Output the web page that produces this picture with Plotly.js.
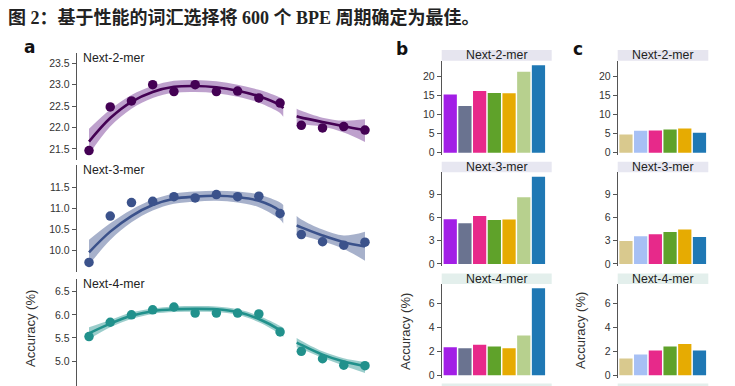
<!DOCTYPE html>
<html><head><meta charset="utf-8">
<script src="https://cdn.plot.ly/plotly-3.0.1.min.js"></script>
<style>html,body{margin:0;padding:0;background:#fff}#chart{width:735px;height:386px}</style>
</head><body><div id="chart"></div>
<script>
// ---------- data ----------
const cycleIdx = [1,2,3,4,5,6,7,8,9,10,11,12,13,14];
const acc2mer = [21.46,22.48,22.62,23.00,22.84,23.00,22.84,22.85,22.69,22.57,22.05,21.99,22.02,21.94];
const acc3mer = [9.72,10.82,11.14,11.17,11.28,11.25,11.33,11.28,11.29,10.88,10.38,10.21,10.13,10.20];
const acc4mer = [5.53,5.84,6.00,6.11,6.17,6.04,6.04,6.04,6.02,5.63,5.21,5.05,4.91,4.90];

const fitX1 = [1,2,3,4,5,6,7,8,9,10,10.15];
const fitX2 = [10.78,11,12,13,14];
const fit2mer1 = [21.67,22.22,22.60,22.83,22.95,22.97,22.94,22.86,22.73,22.52,22.45];
const up2mer1  = [21.97,22.42,22.76,22.97,23.09,23.11,23.08,23.00,22.88,22.70,22.65];
const lo2mer1  = [21.37,22.02,22.44,22.69,22.81,22.83,22.80,22.72,22.58,22.34,22.25];
const fit2mer2 = [22.26,22.23,22.13,22.03,21.94];
const up2mer2  = [22.44,22.39,22.23,22.16,22.19];
const lo2mer2  = [22.08,22.07,22.02,21.88,21.66];

const fit3mer1 = [9.96,10.45,10.82,11.08,11.23,11.28,11.30,11.27,11.18,10.94,10.86];
const up3mer1  = [10.26,10.65,10.97,11.21,11.35,11.40,11.42,11.40,11.33,11.14,11.08];
const lo3mer1  = [9.66,10.25,10.67,10.95,11.11,11.16,11.18,11.14,11.03,10.74,10.64];
const fit3mer2 = [10.60,10.55,10.36,10.20,10.10];
const up3mer2  = [10.82,10.74,10.50,10.36,10.45];
const lo3mer2  = [10.38,10.36,10.22,10.04,9.76];

const fit4mer1 = [5.60,5.81,5.98,6.08,6.12,6.13,6.12,6.06,5.91,5.67,5.62];
const up4mer1  = [5.73,5.89,6.05,6.14,6.18,6.19,6.18,6.12,5.98,5.76,5.72];
const lo4mer1  = [5.47,5.73,5.91,6.02,6.06,6.07,6.06,6.00,5.84,5.58,5.52];
const fit4mer2 = [5.40,5.35,5.14,4.99,4.89];
const up4mer2  = [5.50,5.44,5.21,5.06,4.98];
const lo4mer2  = [5.30,5.26,5.07,4.90,4.74];

const bModels = ['B1','B2','B3','B4','B5','B6','B7'];
const b2mer = [15.2,12.2,16.1,15.6,15.5,21.1,22.8];
const b3mer = [5.78,5.26,6.21,5.69,5.73,8.62,11.25];
const b4mer = [2.33,2.25,2.53,2.39,2.25,3.31,7.22];

const cModels = ['C1','C2','C3','C4','C5','C6'];
const c2mer = [4.77,5.73,5.82,6.08,6.34,5.21];
const c3mer = [2.97,3.58,3.84,4.14,4.44,3.49];
const c4mer = [1.39,1.72,2.06,2.39,2.61,2.06];

const stripLabels = ['Next-2-mer','Next-3-mer','Next-4-mer'];
const tick2 = [21.5,22.0,22.5,23.0,23.5];
const tick3 = [10.0,10.5,11.0,11.5];
const tick4 = [5.0,5.5,6.0,6.5];
const tickB2 = [0,5,10,15,20];
const tickB3 = [0,3,6,9];
const tickB4 = [0,2,4,6];

// ---------- styling / layout ----------
const W = 735, H = 386;
const px = v => v / W, py = v => 1 - v / H;
const lineCols = ['#440154','#3b528b','#21918c'];
const bandCols = ['rgba(100,30,135,0.42)','rgba(59,82,139,0.45)','rgba(33,145,140,0.45)'];
const bCols = ['#a21ee6','#6a7390','#e7298a','#5fa22a','#e6ab02','#b7d08e','#1f78b4'];
const cCols = ['#d9c98e','#a7c0f4','#e7298a','#5fa22a','#e6ab02','#1f78b4'];
const stripCols = ['#e6e5ef','#e7e7f1','#e3efec'];
const tickFont = {family:'Liberation Sans, Arial, sans-serif', size:10.5, color:'#333'};

const rowsA = [[53,160],[165,271.7],[279.3,386]];
const rangesA = [[21.24,23.74],[9.50,12.03],[4.46,6.77]];
const ticksA = [tick2, tick3, tick4];
const rowsBC = [[60.7,155],[172.3,266],[284,378]];
const rangesBC = [[-0.6,24.0],[-0.26,11.84],[-0.22,7.58]];
const ticksBC = [tickB2, tickB3, tickB4];
const stripY = [[50,60.7],[161.7,172.3],[273.4,284]];

const layout = {
  width: W, height: H, margin:{l:0,r:0,t:0,b:0},
  paper_bgcolor:'#fff', plot_bgcolor:'rgba(0,0,0,0)',
  showlegend:false, bargap:0.1,
  font:{family:'Liberation Sans, Arial, sans-serif', color:'#222'},
  shapes:[], annotations:[]
};

function yAxis(dom, range, tv, fmt, anchor){
  return {domain:[py(dom[1]), py(dom[0])], range, tickvals:tv, tickformat:fmt,
    showline:true, linecolor:'#555', linewidth:1, ticks:'outside', ticklen:4,
    tickwidth:1, tickcolor:'#555', tickfont:tickFont, showgrid:false,
    zeroline:false, fixedrange:true, anchor};
}
function xAxis(dom, range, anchor, type){
  const ax = {domain:[px(dom[0]), px(dom[1])], range, visible:false, anchor, fixedrange:true};
  if (type) ax.type = type;
  return ax;
}

const traces = [];
const accAll = [acc2mer, acc3mer, acc4mer];
const seg1 = [[fit2mer1,up2mer1,lo2mer1],[fit3mer1,up3mer1,lo3mer1],[fit4mer1,up4mer1,lo4mer1]];
const seg2 = [[fit2mer2,up2mer2,lo2mer2],[fit3mer2,up3mer2,lo3mer2],[fit4mer2,up4mer2,lo4mer2]];

// panel a
for (let r = 0; r < 3; r++){
  const n = r + 1;
  const xa = 'x' + n, ya = 'y' + n;
  layout['xaxis' + n] = xAxis([76.7,372], [0.42,14.33], ya);
  layout['yaxis' + n] = yAxis(rowsA[r], rangesA[r], ticksA[r], '.1f', xa);
  [[fitX1, seg1[r]], [fitX2, seg2[r]]].forEach(([fx, s]) => {
    traces.push({type:'scatter', mode:'lines', x:fx, y:s[2], xaxis:xa, yaxis:ya,
      line:{width:0, shape:'spline', smoothing:1}, hoverinfo:'skip'});
    traces.push({type:'scatter', mode:'lines', x:fx, y:s[1], xaxis:xa, yaxis:ya,
      fill:'tonexty', fillcolor:bandCols[r],
      line:{width:0, shape:'spline', smoothing:1}, hoverinfo:'skip'});
    traces.push({type:'scatter', mode:'lines', x:fx, y:s[0], xaxis:xa, yaxis:ya,
      line:{width:2.6, color:lineCols[r], shape:'spline', smoothing:1}});
  });
  traces.push({type:'scatter', mode:'markers', x:cycleIdx, y:accAll[r], xaxis:xa, yaxis:ya,
    marker:{size:9.5, color:lineCols[r]}});
  layout.annotations.push({xref:'paper', yref:'paper', x:px(80.5), y:py(rowsA[r][0]+5),
    xanchor:'left', yanchor:'middle', text:stripLabels[r], showarrow:false,
    font:{size:12.3, color:'#222'}});
}

// panels b and c
const bData = [b2mer, b3mer, b4mer];
const cData = [c2mer, c3mer, c4mer];
const panels = [
  {xdom:[441.7,551.7], xr:[-0.58,6.9], cats:bModels, data:bData, cols:bCols, off:4},
  {xdom:[617.7,708.3], xr:[-0.56,5.6], cats:cModels, data:cData, cols:cCols, off:7}
];
panels.forEach(p => {
  for (let r = 0; r < 3; r++){
    const n = p.off + r;
    const xa = 'x' + n, ya = 'y' + n;
    layout['xaxis' + n] = xAxis(p.xdom, p.xr, ya, 'category');
    layout['yaxis' + n] = yAxis(rowsBC[r], rangesBC[r], ticksBC[r], 'd', xa);
    traces.push({type:'bar', x:p.cats, y:p.data[r], xaxis:xa, yaxis:ya,
      marker:{color:p.cols, line:{width:0}}});
    layout.shapes.push({type:'rect', xref:'paper', yref:'paper',
      x0:px(p.xdom[0]), x1:px(p.xdom[1]), y0:py(stripY[r][1]), y1:py(stripY[r][0]),
      fillcolor:stripCols[r], line:{width:0}, layer:'below'});
    layout.annotations.push({xref:'paper', yref:'paper',
      x:px((p.xdom[0]+p.xdom[1])/2), y:py((stripY[r][0]+stripY[r][1])/2),
      xanchor:'center', yanchor:'middle', text:stripLabels[r], showarrow:false,
      font:{size:12.3, color:'#222'}});
  }
  // partially visible next strip at the bottom edge
  layout.shapes.push({type:'rect', xref:'paper', yref:'paper',
    x0:px(p.xdom[0]), x1:px(p.xdom[1]), y0:py(394), y1:py(383.5),
    fillcolor:'#e3efec', line:{width:0}, layer:'below'});
});

// axis titles
[[30,328],[405,331],[580,331]].forEach(([x,y]) => {
  layout.annotations.push({xref:'paper', yref:'paper', x:px(x), y:py(y),
    xanchor:'center', yanchor:'middle', textangle:-90, text:'Accuracy (%)',
    showarrow:false, font:{size:13, color:'#333'}});
});
// panel letters
[['a',30,47],['b',402,49],['c',578,49]].forEach(([t,x,y]) => {
  layout.annotations.push({xref:'paper', yref:'paper', x:px(x), y:py(y),
    xanchor:'center', yanchor:'middle', text:'<b>'+t+'</b>', showarrow:false,
    font:{size:17, color:'#111', family:'DejaVu Sans, Liberation Sans, sans-serif'}});
});
// figure title
layout.annotations.push({xref:'paper', yref:'paper', x:px(6), y:py(17),
  xanchor:'left', yanchor:'middle', showarrow:false,
  text:'<b>图 2：基于性能的词汇选择将 600 个 BPE 周期确定为最佳。</b>',
  font:{size:18, color:'#222', family:'Liberation Serif, Noto Sans CJK SC, serif'}});

Plotly.newPlot('chart', traces, layout, {staticPlot:true, displayModeBar:false});
</script></body></html>
